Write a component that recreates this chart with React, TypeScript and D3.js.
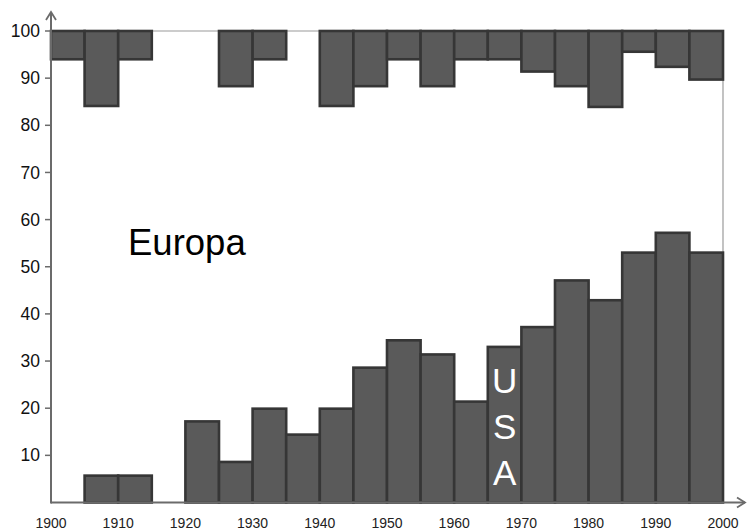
import * as d3 from "d3";

// 5-year bins, start year of each bin
const binStarts = [
  1900, 1905, 1910, 1915, 1920, 1925, 1930, 1935, 1940, 1945,
  1950, 1955, 1960, 1965, 1970, 1975, 1980, 1985, 1990, 1995,
];
// USA bars, rising from 0
const usa = [
  0, 5.7, 5.7, 0, 17.2, 8.6, 19.9, 14.4, 19.9, 28.6,
  34.4, 31.4, 21.4, 33.0, 37.2, 47.1, 42.9, 53.0, 57.2, 53.0,
];
// Europa bars, hanging down from 100 (depth below 100)
const europa = [
  6.0, 15.9, 6.0, 0, 0, 11.7, 6.0, 0, 15.9, 11.7,
  6.0, 11.7, 6.0, 6.0, 8.6, 11.7, 16.1, 4.4, 7.6, 10.3,
];
const yTicks = [10, 20, 30, 40, 50, 60, 70, 80, 90, 100];
const xTicks = [1900, 1910, 1920, 1930, 1940, 1950, 1960, 1970, 1980, 1990, 2000];
const binWidth = 5;

const W = 747;
const H = 530;

export default function App() {
  const x = d3.scaleLinear().domain([1900, 2000]).range([51, 723]);
  const y = d3.scaleLinear().domain([0, 100]).range([502.5, 31]);

  const barFill = "#5a5a5a";
  const barStroke = "#363636";
  const axisColor = "#6b6b6b";
  const font = "'Liberation Sans', Arial, sans-serif";

  const usaLetters = ["U", "S", "A"];

  return (
    <svg
      width={W}
      height={H}
      style={{ position: "absolute", left: 0, top: 0, background: "#fff" }}
      fontFamily={font}
    >
      {/* frame: top line at 100 and right line at 2000 */}
      <line x1={x(1900)} x2={x(2000)} y1={y(100)} y2={y(100)} stroke="#9a9a9a" strokeWidth={1.2} />
      <line x1={x(2000)} x2={x(2000)} y1={y(100)} y2={y(0)} stroke="#9a9a9a" strokeWidth={1.2} />

      {/* USA bars */}
      {binStarts.map((b, i) =>
        usa[i] > 0 ? (
          <rect
            key={"u" + b}
            x={x(b)}
            y={y(usa[i])}
            width={x(b + binWidth) - x(b)}
            height={y(0) - y(usa[i])}
            fill={barFill}
            stroke={barStroke}
            strokeWidth={2.6}
          />
        ) : null
      )}

      {/* Europa bars */}
      {binStarts.map((b, i) =>
        europa[i] > 0 ? (
          <rect
            key={"e" + b}
            x={x(b)}
            y={y(100)}
            width={x(b + binWidth) - x(b)}
            height={y(100 - europa[i]) - y(100)}
            fill={barFill}
            stroke={barStroke}
            strokeWidth={2.6}
          />
        ) : null
      )}

      {/* axes */}
      <line x1={x(1900)} x2={x(1900)} y1={y(0) + 1} y2={13} stroke={axisColor} strokeWidth={2} />
      <path d={`M${x(1900) - 5},${20} L${x(1900)},${12} L${x(1900) + 5},${20}`} fill="none" stroke={axisColor} strokeWidth={1.8} />
      <line x1={x(1900)} x2={745} y1={y(0)} y2={y(0)} stroke={axisColor} strokeWidth={2} />
      <path d={`M${737},${y(0) - 5} L${745},${y(0)} L${737},${y(0) + 5}`} fill="none" stroke={axisColor} strokeWidth={1.8} />

      {/* y ticks */}
      {yTicks.map((t) => (
        <g key={"yt" + t}>
          <line x1={x(1900) - 6} x2={x(1900)} y1={y(t)} y2={y(t)} stroke={axisColor} strokeWidth={1.5} />
          <text x={40} y={y(t)} dy="0.35em" textAnchor="end" fontSize={17.5} fill="#111">
            {t}
          </text>
        </g>
      ))}

      {/* x tick labels */}
      {xTicks.map((t) => (
        <text
          key={"xt" + t}
          x={x(t)}
          y={523}
          dy="0.35em"
          textAnchor="middle"
          fontSize={14}
          fill="#222"
        >
          {t}
        </text>
      ))}

      {/* labels */}
      <text x={128} y={255} fontSize={36.5} fill="#000">
        Europa
      </text>
      {usaLetters.map((c, i) => (
        <text
          key={c}
          x={(x(1965) + x(1970)) / 2}
          y={393 + i * 46}
          fontSize={35}
          fill="#fff"
          textAnchor="middle"
        >
          {c}
        </text>
      ))}
    </svg>
  );
}
